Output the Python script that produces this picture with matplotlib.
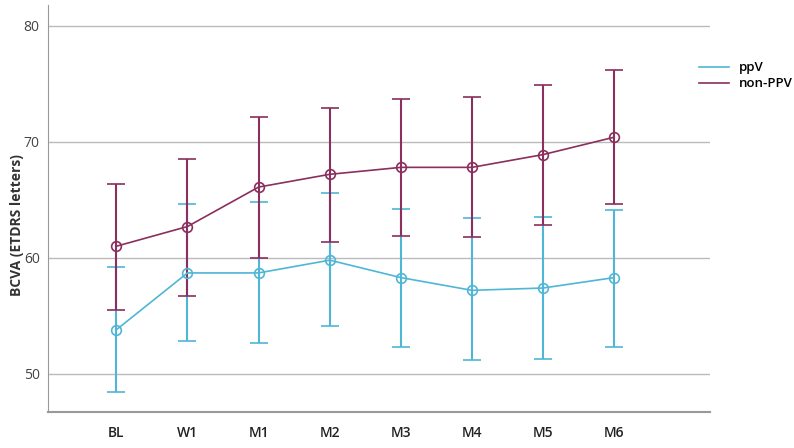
import numpy as np
import matplotlib.pyplot as plt
from matplotlib.lines import Line2D

visits = ['BL', 'W1', 'M1', 'M2', 'M3', 'M4', 'M5', 'M6']

# ppV group: mean and 95% CI bounds
ppv_mean = [53.8, 58.7, 58.7, 59.8, 58.3, 57.2, 57.4, 58.3]
ppv_hi = [59.2, 64.6, 64.8, 65.6, 64.2, 63.4, 63.5, 64.1]
ppv_lo = [48.4, 52.8, 52.7, 54.1, 52.3, 51.2, 51.3, 52.3]

# non-PPV group
non_mean = [61.0, 62.7, 66.1, 67.2, 67.8, 67.8, 68.9, 70.4]
non_hi = [66.4, 68.5, 72.1, 72.9, 73.7, 73.9, 74.9, 76.2]
non_lo = [55.5, 56.7, 60.0, 61.4, 61.9, 61.8, 62.8, 64.6]

c_ppv = '#4fb6d6'
c_non = '#8a2f5e'

plt.rcParams['font.family'] = ['Open Sans', 'DejaVu Sans']

fig = plt.figure(figsize=(7.94, 4.48), dpi=100)
ax = fig.add_axes([0.0605, 0.080, 0.834, 0.909])

x = np.arange(len(visits))
for m, hi, lo, c, lab in [(ppv_mean, ppv_hi, ppv_lo, c_ppv, 'ppV'),
                          (non_mean, non_hi, non_lo, c_non, 'non-PPV')]:
    m = np.array(m)
    err = [m - np.array(lo), np.array(hi) - m]
    ax.errorbar(x, m, yerr=err, color=c, lw=1.2, elinewidth=1.5, capsize=6.5,
                capthick=1.5, marker='o', ms=7, mfc='none', mec=c, mew=1.2,
                label=lab, zorder=3)

ax.set_xlim(-0.96, 8.35)
ax.set_ylim(46.7, 81.8)
ax.set_yticks([50, 60, 70, 80])
ax.set_xticks(x)
ax.set_xticklabels(visits, fontweight='semibold', fontsize=10, color='#222222')
ax.tick_params(axis='y', labelsize=10, colors='#444444', length=0, pad=6)
ax.tick_params(axis='x', length=0, pad=10)
ax.yaxis.grid(True, color='#bbbbbb', lw=1)
ax.set_axisbelow(True)
ax.set_ylabel('BCVA (ETDRS letters)', fontweight='bold', fontsize=10, color='#333333')
ax.yaxis.set_label_coords(-0.037, 0.46)

for s in ['top', 'right']:
    ax.spines[s].set_visible(False)
ax.spines['left'].set_color('#999999')
ax.spines['bottom'].set_color('#999999')
ax.spines['bottom'].set_linewidth(1.5)

handles = [Line2D([], [], color=c_ppv, lw=1.2), Line2D([], [], color=c_non, lw=1.2)]
fig.legend(handles, ['ppV', 'non-PPV'], loc='upper left', bbox_to_anchor=(0.866, 0.89),
           frameon=False, handlelength=2.2, labelspacing=0.25,
           prop={'weight': 'semibold', 'size': 9.5})

fig.savefig('out.png', dpi=100)
